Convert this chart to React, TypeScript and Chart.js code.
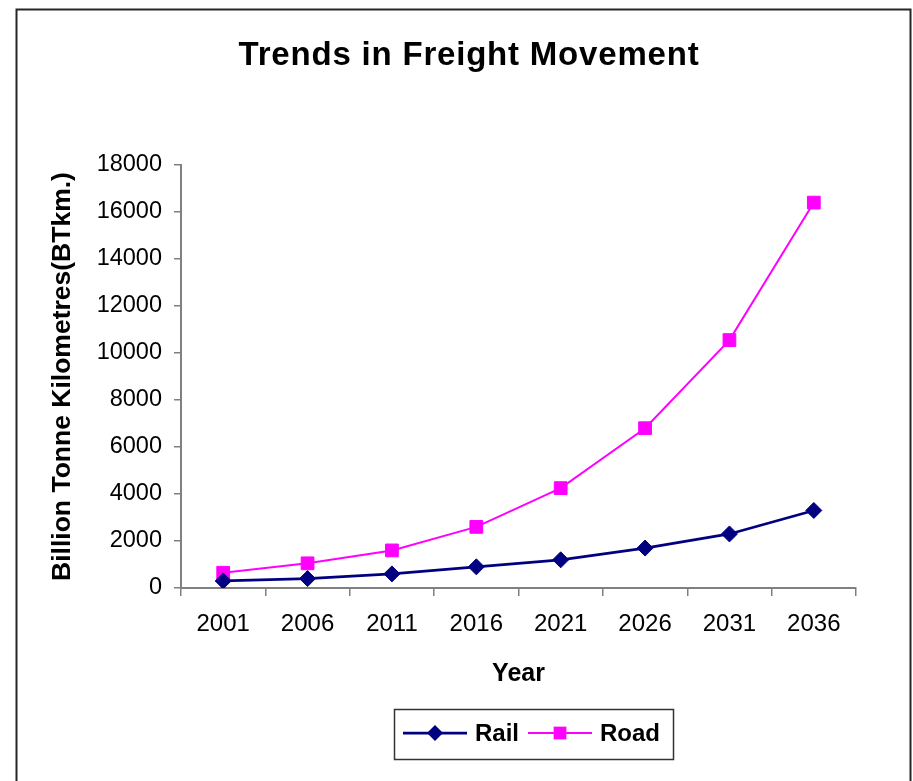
import React, { useEffect, useRef } from "react";
import { Chart, registerables } from "chart.js";

Chart.register(...registerables);

const TITLE = "Trends in Freight Movement";
const Y_TITLE = "Billion Tonne Kilometres(BTkm.)";
const X_TITLE = "Year";
const YEARS = ["2001", "2006", "2011", "2016", "2021", "2026", "2031", "2036"];
const RAIL = [300, 400, 600, 900, 1200, 1700, 2300, 3300];
const ROAD = [650, 1050, 1600, 2600, 4250, 6800, 10550, 16400];
const Y_MIN = 0;
const Y_MAX = 18000;
const Y_STEP = 2000;

const FONT = "'Liberation Sans', Arial, Helvetica, sans-serif";

function drawMarker(ctx: CanvasRenderingContext2D, style: string, x: number, y: number, r: number, color: string) {
  ctx.fillStyle = color;
  ctx.beginPath();
  if (style === "rectRot") {
    ctx.moveTo(x, y - r);
    ctx.lineTo(x + r, y);
    ctx.lineTo(x, y + r);
    ctx.lineTo(x - r, y);
    ctx.closePath();
  } else {
    const h = r * Math.SQRT1_2;
    ctx.rect(x - h, y - h, 2 * h, 2 * h);
  }
  ctx.fill();
}

const decorPlugin = {
  id: "decor",
  afterDraw(chart: any) {
    const ctx: CanvasRenderingContext2D = chart.ctx;
    ctx.save();
    // outer frame
    ctx.strokeStyle = "#262626";
    ctx.lineWidth = 2;
    ctx.strokeRect(16.5, 9.5, 894, 800);

    // title
    ctx.fillStyle = "#000";
    ctx.font = `bold 33px ${FONT}`;
    (ctx as any).letterSpacing = "0.8px";
    ctx.textAlign = "center";
    ctx.textBaseline = "alphabetic";
    ctx.fillText(TITLE, 469, 65);
    (ctx as any).letterSpacing = "0px";

    // legend
    ctx.strokeStyle = "#333";
    ctx.lineWidth = 1.5;
    ctx.strokeRect(394.5, 709.5, 279, 50);
    let x = 403;
    const y = 733;
    ctx.font = `bold 24px ${FONT}`;
    ctx.textAlign = "left";
    chart.data.datasets.forEach((ds: any) => {
      ctx.strokeStyle = ds.borderColor;
      ctx.lineWidth = ds.borderWidth;
      ctx.beginPath();
      ctx.moveTo(x, y);
      ctx.lineTo(x + 64, y);
      ctx.stroke();
      drawMarker(ctx, ds.pointStyle, x + 32, y, ds.pointRadius, ds.pointBackgroundColor);
      ctx.fillStyle = "#000";
      ctx.fillText(ds.label, x + 72, 741);
      const w = ctx.measureText(ds.label).width;
      x = x + 72 + w + 9;
    });
    ctx.restore();
  },
};

export default function App() {
  const ref = useRef<HTMLCanvasElement | null>(null);

  useEffect(() => {
    if (!ref.current) return;
    Chart.defaults.font.family = FONT;
    const chart = new Chart(ref.current, {
      type: "line",
      data: {
        labels: YEARS,
        datasets: [
          {
            label: "Rail",
            data: RAIL,
            borderColor: "#000080",
            backgroundColor: "#000080",
            pointBackgroundColor: "#000080",
            pointBorderColor: "#000080",
            borderWidth: 2.75,
            pointStyle: "rectRot",
            pointRadius: 8,
            pointBorderWidth: 1,
            tension: 0,
          },
          {
            label: "Road",
            data: ROAD,
            borderColor: "#FF00FF",
            backgroundColor: "#FF00FF",
            pointBackgroundColor: "#FF00FF",
            pointBorderColor: "#FF00FF",
            borderWidth: 2,
            pointStyle: "rect",
            pointRadius: 9,
            pointBorderWidth: 1,
            tension: 0,
          },
        ],
      },
      options: {
        responsive: false,
        animation: false,
        layout: { padding: { top: 165, left: 16, right: 57, bottom: 83 } },
        plugins: {
          legend: { display: false },
          title: { display: false },
          tooltip: { enabled: false },
        },
        scales: {
          x: {
            offset: true,
            ticks: { color: "#000", font: { size: 24 }, padding: 14, maxRotation: 0, autoSkip: false },
            grid: { offset: true, drawOnChartArea: false, drawTicks: true, tickLength: 8, color: "#808080", lineWidth: 1.5 },
            border: { display: true, color: "#808080", width: 2 },
            title: { display: true, text: X_TITLE, color: "#000", font: { size: 25, weight: "bold" }, padding: { top: 0, bottom: 9 } },
            afterFit(scale: any) {
              scale.height = 110;
            },
          },
          y: {
            min: Y_MIN,
            max: Y_MAX,
            ticks: {
              stepSize: Y_STEP,
              color: "#000",
              font: { size: 23.5 },
              padding: 12,
              callback: (v: any) => String(v),
            },
            grid: { drawOnChartArea: false, drawTicks: true, tickLength: 7, color: "#808080", lineWidth: 1.5 },
            border: { display: true, color: "#808080", width: 2 },
            title: { display: true, text: Y_TITLE, color: "#000", font: { size: 26.5, weight: "bold" }, padding: { top: 31, bottom: 0 } },
            afterFit(scale: any) {
              scale.width = 165;
            },
          },
        },
      } as any,
      plugins: [decorPlugin],
    });
    return () => chart.destroy();
  }, []);

  return (
    <div style={{ position: "fixed", left: 0, top: 0, width: 913, height: 781, background: "#fff" }}>
      <canvas ref={ref} width={913} height={781} style={{ display: "block" }} />
    </div>
  );
}
